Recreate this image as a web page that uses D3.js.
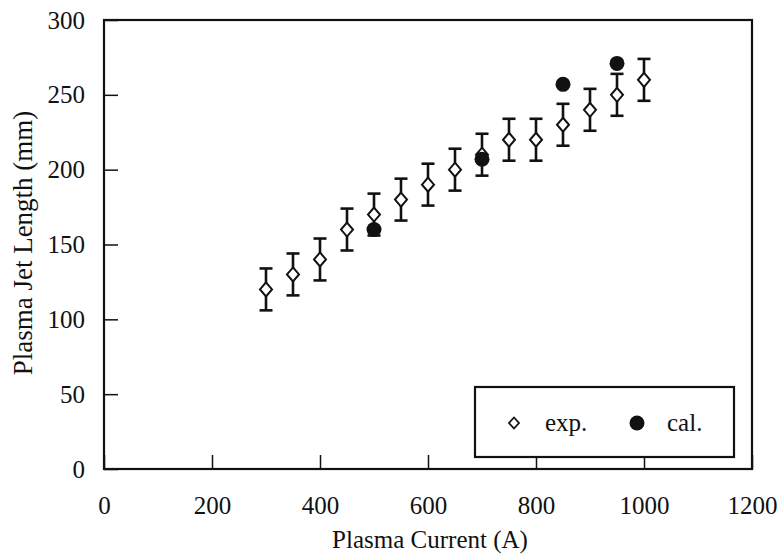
<!DOCTYPE html>
<html>
<head>
<meta charset="utf-8">
<script src="https://cdn.jsdelivr.net/npm/d3@7"></script>
<style>
  html, body { margin: 0; padding: 0; background: #fff; }
  svg { display: block; }
  text { font-family: "Liberation Serif", "Times New Roman", serif; fill: #111; }
</style>
</head>
<body>
<svg id="chart" width="781" height="555"></svg>
<script>
// Measured jet length vs. plasma current (with error bars) and calculated values
const expCurrent = [300, 350, 400, 450, 500, 550, 600, 650, 700, 750, 800, 850, 900, 950, 1000];
const expLength  = [120, 130, 140, 160, 170, 180, 190, 200, 210, 220, 220, 230, 240, 250, 260];
const expError   = [14, 14, 14, 14, 14, 14, 14, 14, 14, 14, 14, 14, 14, 14, 14];
const calCurrent = [500, 700, 850, 950];
const calLength  = [160, 207, 257, 271];
const xTicks = [0, 200, 400, 600, 800, 1000, 1200];
const yTicks = [0, 50, 100, 150, 200, 250, 300];

const svg = d3.select("#chart");
const x = d3.scaleLinear().domain([0, 1200]).range([104, 752]);
const y = d3.scaleLinear().domain([0, 300]).range([469, 20]);
const ink = "#111";
const fs = 25;

// Axes with inward ticks
const xAxis = svg.append("g")
  .attr("transform", `translate(0,${y(0)})`)
  .call(d3.axisBottom(x).tickValues(xTicks).tickSize(-14).tickPadding(27).tickFormat(d3.format("d")));
const yAxis = svg.append("g")
  .attr("transform", `translate(${x(0)},0)`)
  .call(d3.axisLeft(y).tickValues(yTicks).tickSize(-14).tickPadding(19).tickFormat(d3.format("d")));
[xAxis, yAxis].forEach(g => {
  g.select(".domain").remove();
  g.selectAll(".tick line").attr("stroke", ink).attr("stroke-width", 1.5);
  g.selectAll(".tick text").attr("font-size", fs).attr("fill", ink)
    .style("font-family", '"Liberation Serif", serif');
});

// Plot frame
svg.append("rect")
  .attr("x", x(0)).attr("y", y(300))
  .attr("width", x(1200) - x(0)).attr("height", y(0) - y(300))
  .attr("fill", "none").attr("stroke", ink).attr("stroke-width", 2.2);

// Axis titles
svg.append("text")
  .attr("x", 430).attr("y", 548)
  .attr("text-anchor", "middle").attr("font-size", fs)
  .text("Plasma Current (A)");
svg.append("text")
  .attr("transform", `translate(32,243) rotate(-90)`)
  .attr("text-anchor", "middle").attr("font-size", 27)
  .text("Plasma Jet Length (mm)");

const expData = expCurrent.map((c, i) => ({ c, v: expLength[i], e: expError[i] }));
const calData = calCurrent.map((c, i) => ({ c, v: calLength[i] }));

// Error bars
const capHalf = 6.5;
const eb = svg.append("g").attr("stroke", ink).attr("stroke-width", 2.6);
eb.selectAll("line.v").data(expData).join("line")
  .attr("x1", d => x(d.c)).attr("x2", d => x(d.c))
  .attr("y1", d => y(d.v + d.e)).attr("y2", d => y(d.v - d.e));
eb.selectAll("line.t").data(expData).join("line")
  .attr("x1", d => x(d.c) - capHalf).attr("x2", d => x(d.c) + capHalf)
  .attr("y1", d => y(d.v + d.e)).attr("y2", d => y(d.v + d.e));
eb.selectAll("line.b").data(expData).join("line")
  .attr("x1", d => x(d.c) - capHalf).attr("x2", d => x(d.c) + capHalf)
  .attr("y1", d => y(d.v - d.e)).attr("y2", d => y(d.v - d.e));

// Open diamond markers
const diamond = (cx, cy, hw, hh) => `M${cx},${cy - hh}L${cx + hw},${cy}L${cx},${cy + hh}L${cx - hw},${cy}Z`;
svg.append("g").selectAll("path").data(expData).join("path")
  .attr("d", d => diamond(x(d.c), y(d.v), 6, 7))
  .attr("fill", "#fff").attr("stroke", ink).attr("stroke-width", 2);

// Filled circle markers
svg.append("g").selectAll("circle").data(calData).join("circle")
  .attr("cx", d => x(d.c)).attr("cy", d => y(d.v)).attr("r", 7.5)
  .attr("fill", ink);

// Legend
const lg = svg.append("g");
lg.append("rect").attr("x", 475).attr("y", 387).attr("width", 259).attr("height", 70)
  .attr("fill", "#fff").attr("stroke", ink).attr("stroke-width", 2.2);
lg.append("path").attr("d", diamond(514, 423, 5, 5.5))
  .attr("fill", "#fff").attr("stroke", ink).attr("stroke-width", 1.8);
lg.append("text").attr("x", 545).attr("y", 431).attr("font-size", fs).text("exp.");
lg.append("circle").attr("cx", 637).attr("cy", 423).attr("r", 7.5).attr("fill", ink);
lg.append("text").attr("x", 667).attr("y", 431).attr("font-size", fs).text("cal.");
</script>
</body>
</html>
